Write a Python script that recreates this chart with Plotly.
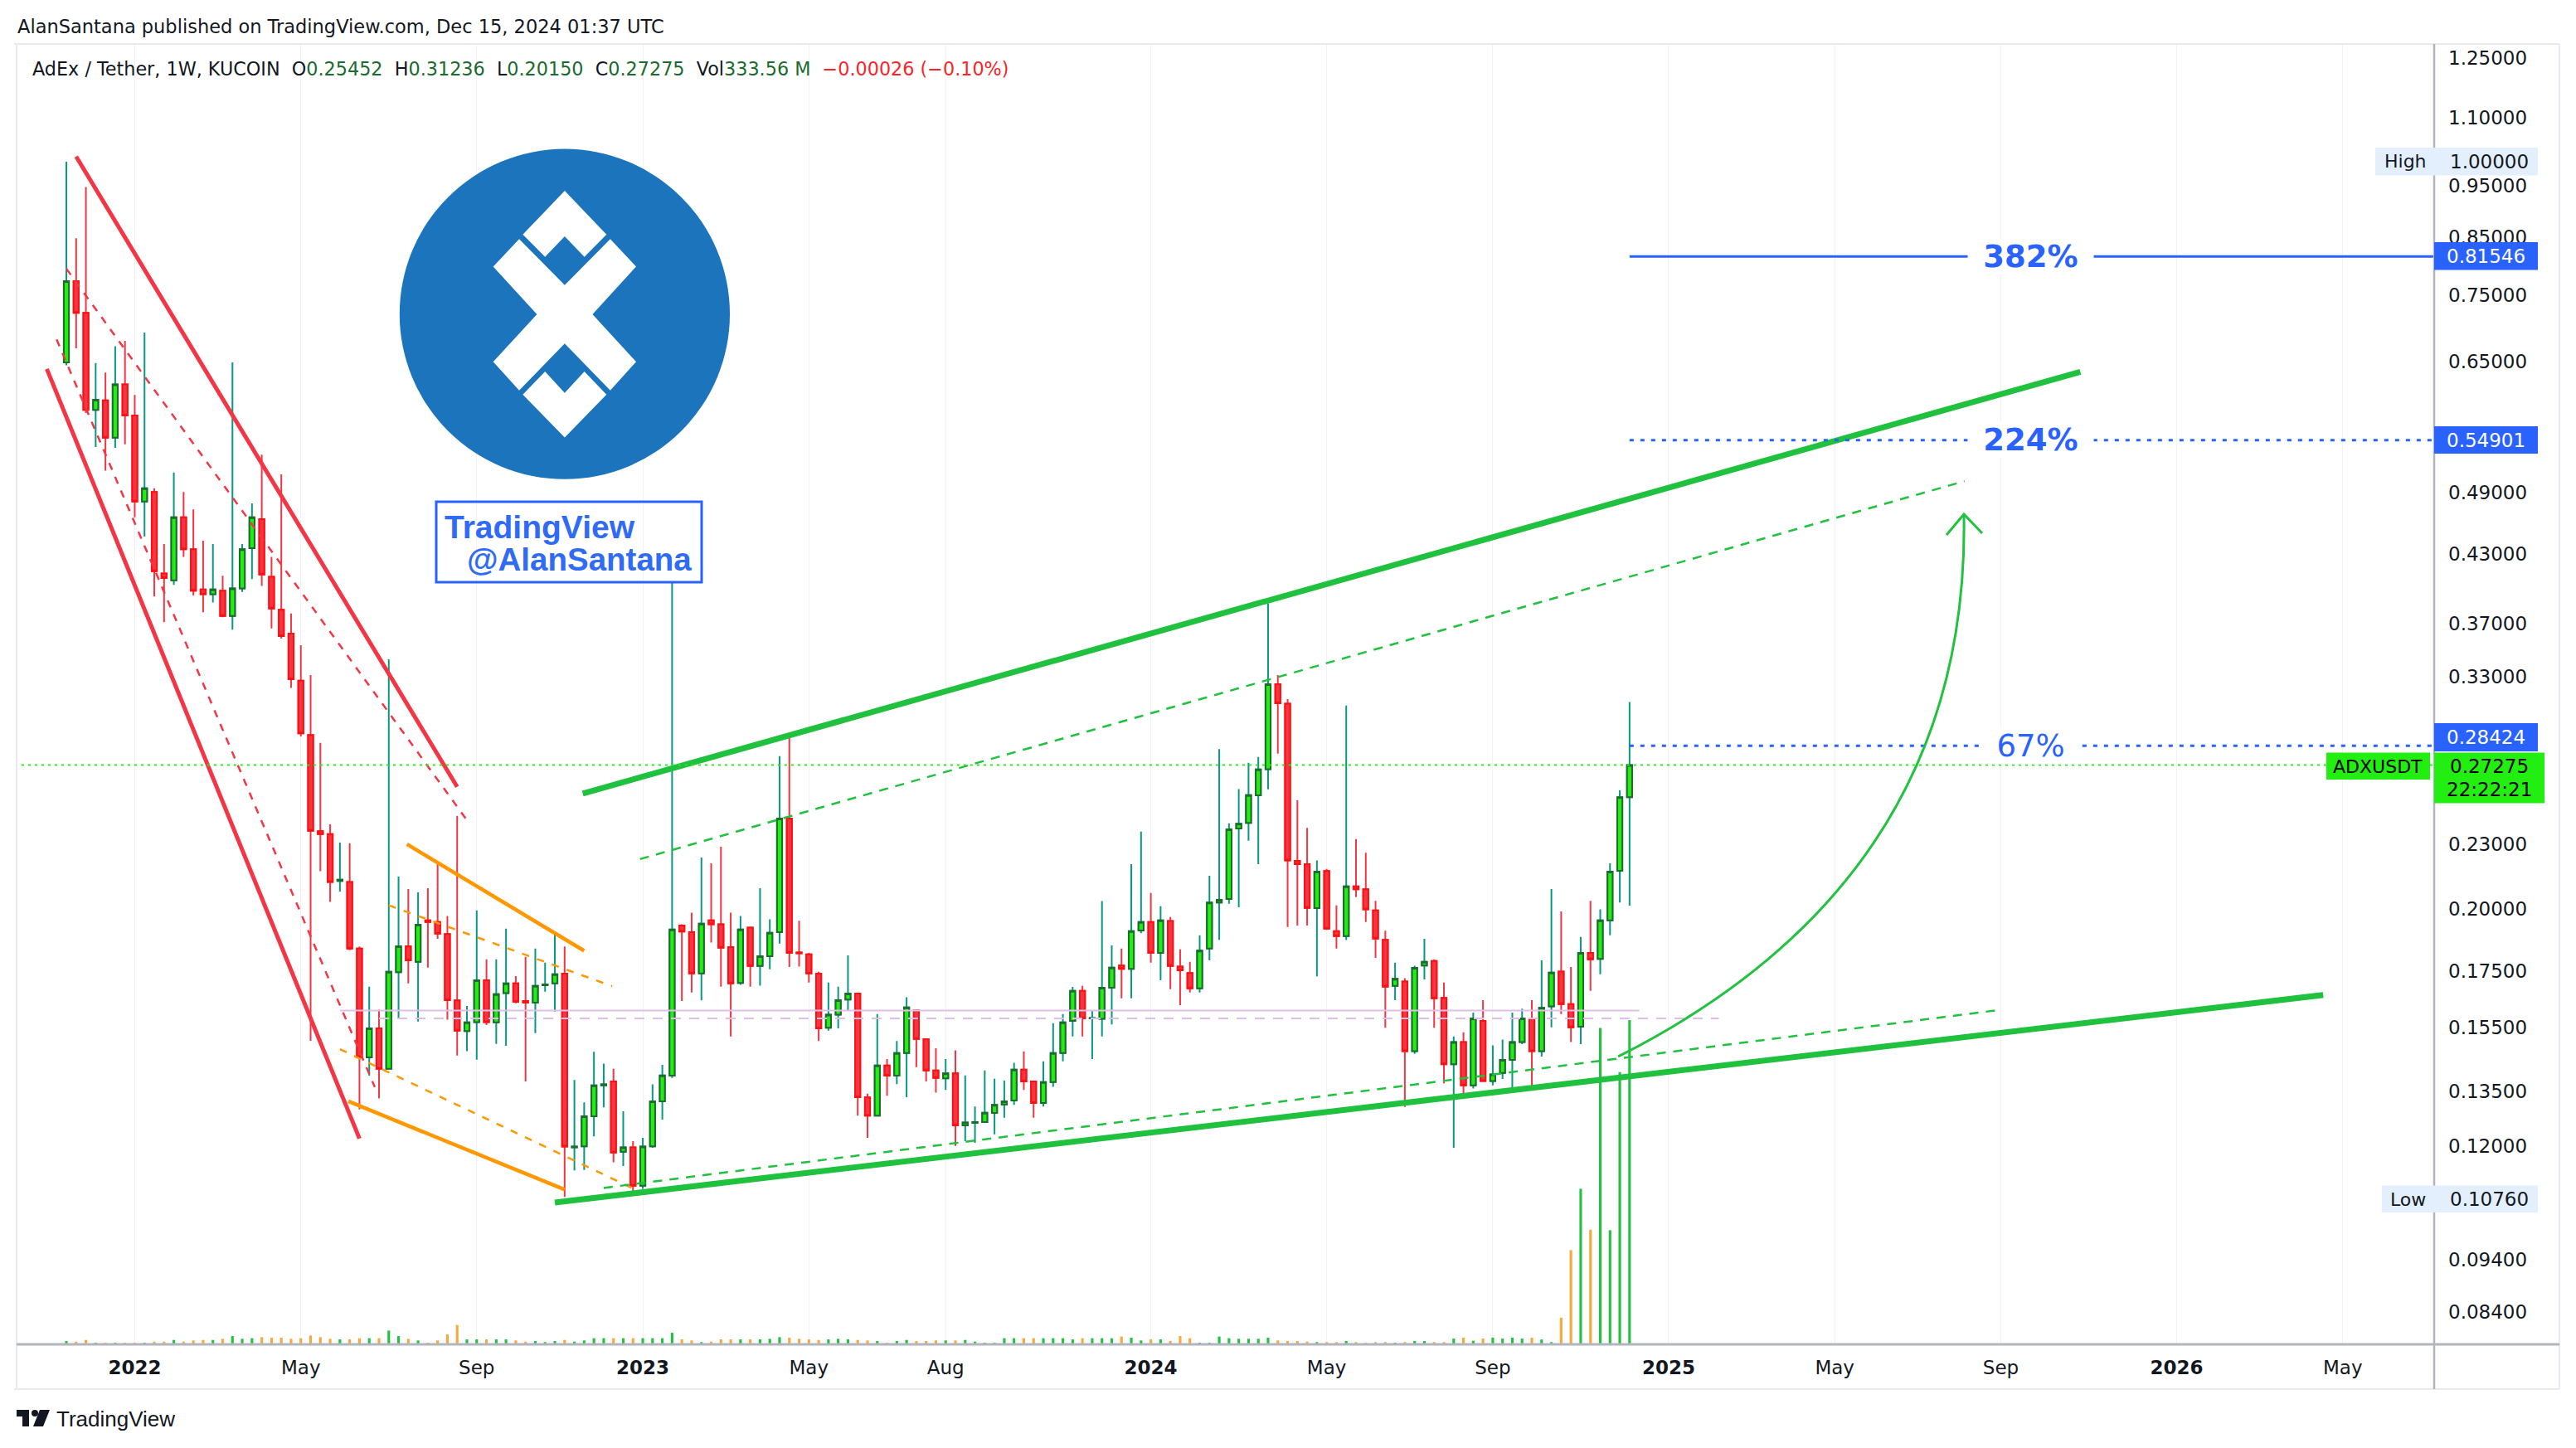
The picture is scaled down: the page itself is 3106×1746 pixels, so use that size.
import math
import pandas as pd
import plotly.graph_objects as go

# ---------------- data (weekly ADX/USDT, KuCoin) ----------------
first_week = '2021-11-15'
opens = [0.649, 0.773, 0.722, 0.586, 0.598, 0.552, 0.619, 0.579, 0.481, 0.491,
         0.412, 0.406, 0.465, 0.434, 0.398, 0.394, 0.397, 0.376, 0.399, 0.435,
         0.463, 0.409, 0.381, 0.362, 0.327, 0.291, 0.2365, 0.235, 0.2125, 0.212,
         0.1837, 0.1453, 0.1547, 0.1418, 0.1746, 0.1846, 0.1785, 0.1952, 0.1945, 0.1895,
         0.1643, 0.1538, 0.1568, 0.1716, 0.1567, 0.1669, 0.1704, 0.1641, 0.1635, 0.1697,
         0.1704, 0.1740, 0.1197, 0.1200, 0.1280, 0.1368, 0.1380, 0.1186, 0.1197, 0.1102,
         0.1200, 0.1322, 0.1397, 0.1930, 0.1903, 0.1741, 0.1952, 0.1935, 0.1843, 0.1706,
         0.1922, 0.1769, 0.1807, 0.1903, 0.2430, 0.1821, 0.1814, 0.1740, 0.1549, 0.1593,
         0.1646, 0.1667, 0.1333, 0.1282, 0.1428, 0.1397, 0.1467, 0.1607, 0.1511, 0.1413,
         0.1389, 0.1404, 0.1255, 0.1262, 0.1264, 0.1289, 0.1313, 0.1324, 0.1415, 0.1380,
         0.1317, 0.1378, 0.1467, 0.1572, 0.1677, 0.1580, 0.1579, 0.1688, 0.1771, 0.1758,
         0.1910, 0.1945, 0.1820, 0.1949, 0.1767, 0.1743, 0.1686, 0.1837, 0.2028, 0.2044,
         0.2379, 0.2408, 0.2555, 0.2703, 0.3246, 0.3113, 0.2219, 0.2203, 0.2004, 0.2171,
         0.1907, 0.1887, 0.2100, 0.2087, 0.1994, 0.1872, 0.1695, 0.1711, 0.1473, 0.1771,
         0.1788, 0.1652, 0.1432, 0.1502, 0.1368, 0.1572, 0.1381, 0.1405, 0.1445, 0.1502,
         0.1580, 0.1473, 0.1622, 0.1748, 0.1630, 0.1552, 0.1820, 0.1796, 0.1952, 0.2172,
         0.25452]
highs = [1.000, 0.848, 0.947, 0.648, 0.635, 0.672, 0.680, 0.605, 0.692, 0.495,
         0.439, 0.512, 0.491, 0.473, 0.442, 0.439, 0.410, 0.649, 0.439, 0.479,
         0.532, 0.427, 0.510, 0.378, 0.353, 0.331, 0.286, 0.240, 0.2308, 0.2305,
         0.1845, 0.1692, 0.1610, 0.3424, 0.2145, 0.2088, 0.2073, 0.2092, 0.2203, 0.1970,
         0.2444, 0.1623, 0.1994, 0.1795, 0.1795, 0.1917, 0.1731, 0.1804, 0.1837, 0.1782,
         0.1903, 0.1845, 0.1384, 0.1319, 0.1471, 0.1434, 0.1418, 0.1294, 0.1213, 0.1222,
         0.1371, 0.1430, 0.4050, 0.1935, 0.1984, 0.2235, 0.2207, 0.2287, 0.1984, 0.1970,
         0.1925, 0.2092, 0.1956, 0.2780, 0.2922, 0.1950, 0.1820, 0.1747, 0.1707, 0.1692,
         0.1810, 0.1670, 0.1344, 0.1595, 0.1448, 0.1505, 0.1654, 0.1610, 0.1512, 0.1482,
         0.1448, 0.1475, 0.1398, 0.1307, 0.1413, 0.1388, 0.1382, 0.1436, 0.1472, 0.1380,
         0.1441, 0.1564, 0.1595, 0.1691, 0.1695, 0.1607, 0.2035, 0.1849, 0.1837, 0.2203,
         0.2363, 0.2070, 0.2012, 0.1966, 0.1834, 0.1785, 0.1890, 0.2149, 0.2822, 0.2405,
         0.2589, 0.2740, 0.2775, 0.3862, 0.3310, 0.3143, 0.2528, 0.2382, 0.2221, 0.2180,
         0.2016, 0.3100, 0.2325, 0.2258, 0.2036, 0.1909, 0.1782, 0.1723, 0.1770, 0.1876,
         0.1795, 0.1707, 0.1520, 0.1534, 0.1600, 0.1644, 0.1491, 0.1510, 0.1600, 0.1614,
         0.1644, 0.1791, 0.2088, 0.1990, 0.1765, 0.1883, 0.2036, 0.1999, 0.2207, 0.2583,
         0.31236]
lows = [0.645, 0.669, 0.582, 0.541, 0.514, 0.540, 0.544, 0.465, 0.446, 0.392,
        0.371, 0.402, 0.427, 0.393, 0.379, 0.387, 0.375, 0.365, 0.396, 0.407,
        0.401, 0.366, 0.358, 0.322, 0.290, 0.1506, 0.217, 0.2031, 0.2077, 0.183,
        0.1299, 0.1397, 0.1330, 0.1416, 0.1580, 0.1704, 0.1570, 0.1763, 0.1876, 0.1576,
        0.1459, 0.1473, 0.1446, 0.1558, 0.1496, 0.1490, 0.1633, 0.1380, 0.1531, 0.1674,
        0.1604, 0.1076, 0.1139, 0.1140, 0.1226, 0.1305, 0.1159, 0.1150, 0.1088, 0.1095,
        0.1196, 0.1271, 0.1390, 0.1641, 0.1671, 0.1643, 0.1861, 0.1692, 0.1520, 0.1699,
        0.1692, 0.1696, 0.1757, 0.1857, 0.1765, 0.1767, 0.1707, 0.1505, 0.1539, 0.1547,
        0.1607, 0.1282, 0.1222, 0.1281, 0.1338, 0.1372, 0.1334, 0.1423, 0.1380, 0.1347,
        0.1355, 0.1201, 0.1213, 0.1209, 0.1263, 0.1231, 0.1276, 0.1312, 0.1355, 0.1276,
        0.1307, 0.1364, 0.1441, 0.1520, 0.1520, 0.1448, 0.1520, 0.1560, 0.1650, 0.1650,
        0.1899, 0.1782, 0.1716, 0.1683, 0.1626, 0.1671, 0.1671, 0.1791, 0.1872, 0.2023,
        0.2008, 0.2317, 0.2203, 0.2588, 0.2795, 0.1924, 0.1930, 0.1930, 0.1730, 0.1912,
        0.1837, 0.1871, 0.2052, 0.1945, 0.1800, 0.1549, 0.1644, 0.1306, 0.1464, 0.1719,
        0.1549, 0.1374, 0.1196, 0.1330, 0.1359, 0.1381, 0.1368, 0.1387, 0.1359, 0.1495,
        0.1368, 0.1456, 0.1550, 0.1595, 0.1502, 0.1495, 0.1677, 0.1738, 0.1890, 0.2028,
        0.20150]
closes = [0.773, 0.722, 0.586, 0.599, 0.552, 0.619, 0.579, 0.481, 0.495, 0.414,
          0.408, 0.465, 0.434, 0.397, 0.394, 0.398, 0.376, 0.399, 0.434, 0.465,
          0.411, 0.382, 0.360, 0.328, 0.292, 0.2367, 0.235, 0.212, 0.2130, 0.1837,
          0.1454, 0.1547, 0.1418, 0.1747, 0.1846, 0.1791, 0.1934, 0.1945, 0.1897, 0.1644,
          0.1539, 0.1567, 0.1716, 0.1568, 0.1665, 0.1704, 0.1638, 0.1635, 0.1695, 0.1700,
          0.1738, 0.1199, 0.1199, 0.1280, 0.1368, 0.1371, 0.1184, 0.1197, 0.1102, 0.1199,
          0.1322, 0.1398, 0.1914, 0.1905, 0.1741, 0.1938, 0.1935, 0.1840, 0.1704, 0.1914,
          0.1769, 0.1807, 0.1900, 0.2430, 0.1820, 0.1818, 0.1741, 0.1547, 0.1593, 0.1644,
          0.1667, 0.1334, 0.1282, 0.1428, 0.1397, 0.1467, 0.1618, 0.1512, 0.1413, 0.1390,
          0.1404, 0.1255, 0.1263, 0.1264, 0.1290, 0.1312, 0.1322, 0.1415, 0.1380, 0.1317,
          0.1378, 0.1467, 0.1567, 0.1677, 0.1580, 0.1582, 0.1688, 0.1763, 0.1758, 0.1907,
          0.1945, 0.1820, 0.1952, 0.1769, 0.1753, 0.1686, 0.1829, 0.2028, 0.2040, 0.2375,
          0.2403, 0.2556, 0.2701, 0.3246, 0.3115, 0.2221, 0.2203, 0.2005, 0.2168, 0.1917,
          0.1887, 0.2100, 0.2087, 0.1999, 0.1877, 0.1692, 0.1721, 0.1473, 0.1762, 0.1785,
          0.1650, 0.1432, 0.1502, 0.1368, 0.1580, 0.1381, 0.1401, 0.1445, 0.1502, 0.1580,
          0.1473, 0.1617, 0.1744, 0.1630, 0.1550, 0.1820, 0.1795, 0.1952, 0.2168, 0.2545,
          0.27275]
volumes_m = [3.4, 2.8, 4.5, 1.7, 1.4, 1.7, 1.7, 1.7, 1.7, 2.8,
             2.8, 4.5, 2.8, 4.0, 4.5, 4.5, 5.7, 8.5, 5.7, 6.3,
             7.4, 6.8, 6.8, 5.7, 6.3, 9.1, 7.4, 5.7, 5.1, 5.1,
             6.3, 6.3, 6.3, 14.2, 8.5, 5.7, 4.0, 1.7, 4.0, 10.2,
             19.9, 5.1, 5.1, 5.1, 5.1, 5.1, 4.0, 2.8, 3.4, 2.3,
             3.4, 4.5, 2.8, 4.0, 6.3, 6.3, 6.3, 6.3, 6.3, 6.3,
             6.3, 6.3, 11.9, 5.1, 4.0, 2.3, 2.8, 5.1, 5.1, 5.1,
             5.1, 5.1, 5.7, 7.4, 6.8, 5.7, 5.1, 4.5, 5.1, 5.7,
             5.1, 4.5, 4.0, 3.4, 1.7, 3.4, 4.5, 3.4, 3.4, 4.0,
             4.0, 4.0, 4.5, 2.8, 1.7, 1.7, 6.3, 6.3, 6.3, 6.3,
             6.3, 6.3, 6.3, 5.1, 6.3, 6.3, 6.3, 6.3, 8.0, 6.8,
             4.0, 5.1, 5.1, 3.4, 8.5, 6.3, 1.7, 1.7, 8.0, 6.3,
             5.7, 5.7, 5.7, 6.8, 4.0, 3.4, 3.4, 2.8, 2.3, 2.3,
             2.3, 3.4, 2.3, 1.7, 2.3, 2.3, 1.1, 2.3, 3.4, 3.4,
             2.3, 2.3, 5.9, 6.9, 3.7, 5.9, 6.9, 5.9, 6.9, 5.9,
             6.9, 5.0, 2.3, 27.4, 96.9, 160.0, 117.9, 325.4, 117.4, 280.1,
             333.56]

# price-axis ticks and time-axis ticks
price_ticks = [1.25, 1.10, 0.95, 0.85, 0.75, 0.65, 0.49, 0.43, 0.37, 0.33,
               0.23, 0.20, 0.175, 0.155, 0.135, 0.12, 0.094, 0.084]
time_tick_dates = ['2022-01-03', '2022-05-02', '2022-09-05', '2023-01-02', '2023-05-01',
                   '2023-08-07', '2024-01-01', '2024-05-06', '2024-09-02', '2025-01-06',
                   '2025-05-05', '2025-09-01', '2026-01-05', '2026-05-04']
time_tick_labels = ['<b>2022</b>', 'May', 'Sep', '<b>2023</b>', 'May', 'Aug', '<b>2024</b>',
                    'May', 'Sep', '<b>2025</b>', 'May', 'Sep', '<b>2026</b>', 'May']

# drawn trend lines (date, price) pairs
red_upper_x, red_upper_y = ['2021-11-22', '2022-08-22'], [1.011, 0.2602]
red_lower_x, red_lower_y = ['2021-11-01', '2022-06-13'], [0.640, 0.122]
red_mid1_x, red_mid1_y = ['2021-11-08', '2022-06-24'], [0.682, 0.1363]
red_mid2_x, red_mid2_y = ['2021-11-15', '2022-08-29'], [0.794, 0.2422]
org_upper_x, org_upper_y = ['2022-07-17', '2022-11-21'], [0.230, 0.1828]
org_lower_x, org_lower_y = ['2022-06-05', '2022-11-07'], [0.1322, 0.1093]
org_mid1_x, org_mid1_y = ['2022-07-04', '2022-12-11'], [0.2016, 0.1694]
org_mid2_x, org_mid2_y = ['2022-05-30', '2022-12-31'], [0.1479, 0.1088]
grn_upper_x, grn_upper_y = ['2022-11-20', '2025-10-28'], [0.2565, 0.636]
grn_lower_x, grn_lower_y = ['2022-10-31', '2026-04-20'], [0.1063, 0.1662]
grn_mid1_x, grn_mid1_y = ['2022-12-31', '2025-08-06'], [0.2227, 0.5026]
grn_mid2_x, grn_mid2_y = ['2022-12-05', '2025-09-01'], [0.1097, 0.161]
lav_solid_x, lav_solid_y = ['2022-05-30', '2024-12-16'], [0.1607, 0.1607]
lav_dash_x, lav_dash_y = ['2022-06-27', '2025-02-11'], [0.158, 0.158]
target_start, target_end = '2024-12-09', '2026-09-01'
target_prices = [0.81546, 0.54901, 0.28424]
target_labels = ['382%', '224%', '67%']
last_price = closes[-1]
all_time_high, all_time_low = 1.0, 0.1076

# ---------------- geometry helpers (page pixels -> paper) ----------------
W, H = 3106, 1746
PL, PR, PT, PB = 20, 2935, 53, 1621
def px(X):
    return (X - PL) / (PR - PL)
def py(Y):
    return (PB - Y) / (PB - PT)

dates = pd.date_range(first_week, periods=len(opens), freq='7D')

fig = go.Figure()

UP_FILL, UP_EDGE, UP_WICK = '#22ee11', '#1e6b2b', '#089981'
DN_FILL, DN_EDGE, DN_WICK = '#f23645', '#ff1010', '#f23645'

vol_colors = ['#22c140' if c >= o else '#f9a83a' for o, c in zip(opens, closes)]
fig.add_trace(go.Bar(x=dates, y=volumes_m, marker=dict(color=vol_colors, line=dict(width=0)),
                     width=1.6e8, yaxis='y', hoverinfo='skip', showlegend=False))

# wicks
fig.add_trace(go.Candlestick(x=dates, open=opens, high=highs, low=lows, close=closes, yaxis='y2',
                             increasing=dict(line=dict(color=UP_WICK, width=2), fillcolor=UP_FILL),
                             decreasing=dict(line=dict(color=DN_WICK, width=2), fillcolor=DN_FILL),
                             hoverinfo='skip', showlegend=False))
# bodies with their own border colour
body_hi = [max(o, c) for o, c in zip(opens, closes)]
body_lo = [min(o, c) for o, c in zip(opens, closes)]
fig.add_trace(go.Candlestick(x=dates, open=opens, high=body_hi, low=body_lo, close=closes, yaxis='y2',
                             increasing=dict(line=dict(color=UP_EDGE, width=2), fillcolor=UP_FILL),
                             decreasing=dict(line=dict(color=DN_EDGE, width=2), fillcolor=DN_FILL),
                             hoverinfo='skip', showlegend=False))

def seg(xs, ys, color, width, dash='solid'):
    fig.add_trace(go.Scatter(x=xs, y=ys, mode='lines', yaxis='y2',
                             line=dict(color=color, width=width, dash=dash),
                             hoverinfo='skip', showlegend=False))

RED, ORG, GRN, LAV, BLUE = '#f23645', '#ff9800', '#1fc13e', '#e1bee7', '#2962ff'
seg(lav_solid_x, lav_solid_y, LAV, 2)
seg(lav_dash_x, lav_dash_y, LAV, 2, '12px,10px')
seg(red_upper_x, red_upper_y, RED, 5)
seg(red_lower_x, red_lower_y, RED, 5)
seg(red_mid1_x, red_mid1_y, RED, 2.5, '9px,9px')
seg(red_mid2_x, red_mid2_y, RED, 2.5, '9px,9px')
seg(org_upper_x, org_upper_y, ORG, 4.5)
seg(org_lower_x, org_lower_y, ORG, 4.5)
seg(org_mid1_x, org_mid1_y, ORG, 2.5, '9px,10px')
seg(org_mid2_x, org_mid2_y, ORG, 2.5, '9px,10px')
seg(grn_upper_x, grn_upper_y, GRN, 7)
seg(grn_lower_x, grn_lower_y, GRN, 7)
seg(grn_mid1_x, grn_mid1_y, GRN, 2.5, '11px,9px')
seg(grn_mid2_x, grn_mid2_y, GRN, 2.5, '11px,9px')
seg(['2021-09-01', target_end], [last_price, last_price], '#22ee11', 2, '3px,5px')
seg([target_start, target_end], [target_prices[0], target_prices[0]], BLUE, 3)
seg([target_start, target_end], [target_prices[1], target_prices[1]], BLUE, 3, '5px,8px')
seg([target_start, target_end], [target_prices[2], target_prices[2]], BLUE, 3, '5px,8px')

shapes = []
ann = []
FONT = 'DejaVu Sans'
INK = '#131722'

def rect(x0, y0, x1, y1, fill, line=None, lw=0):
    shapes.append(dict(type='rect', xref='paper', yref='paper', x0=px(x0), x1=px(x1),
                       y0=py(y0), y1=py(y1), fillcolor=fill,
                       line=dict(color=line or fill, width=lw)))

def poly(points, fill):
    d = 'M ' + ' L '.join(f'{px(a):.5f},{py(b):.5f}' for a, b in points) + ' Z'
    shapes.append(dict(type='path', xref='paper', yref='paper', path=d,
                       fillcolor=fill, line=dict(width=0)))

def hline(x0, x1, y, color, w):
    shapes.append(dict(type='line', xref='paper', yref='paper', x0=px(x0), x1=px(x1),
                       y0=py(y), y1=py(y), line=dict(color=color, width=w)))

def vline(x, y0, y1, color, w):
    shapes.append(dict(type='line', xref='paper', yref='paper', x0=px(x), x1=px(x),
                       y0=py(y0), y1=py(y1), line=dict(color=color, width=w)))

def text(x, y, s, size=22, color=INK, anchor='center', family=FONT, **kw):
    ann.append(dict(xref='paper', yref='paper', x=px(x), y=py(y), text=s, showarrow=False,
                    xanchor=anchor, yanchor='middle', font=dict(family=family, size=size, color=color), **kw))

# frame and axis lines
hline(17, 3086, 53, '#e9e9f0', 2)
hline(17, 3086, 1675, '#e9e9f0', 2)
vline(20, 53, 1675, '#e9e9f0', 2)
vline(3086, 53, 1675, '#e9e9f0', 2)
hline(20, 3086, 1621, '#b2b5be', 3)
vline(2935, 53, 1675, '#b2b5be', 2.5)

# logo
shapes.append(dict(type='circle', xref='paper', yref='paper', x0=px(481.8), x1=px(880.0),
                   y0=py(577.8), y1=py(179.6), fillcolor='#1c75bc', line=dict(width=0)))
poly([(680.9, 230.1), (731.3, 282.8), (704.6, 309.8), (680.9, 284.9), (657.2, 309.8), (630.4, 282.8)], 'white')
poly([(626, 288.2), (680.9, 343.8), (735.8, 288.2), (767, 321.4), (714.4, 379), (767, 436.3),
      (735.8, 470.7), (680.9, 414.3), (626, 470.7), (594.7, 436.3), (647.4, 379), (594.7, 321.4)], 'white')
poly([(630.4, 475.7), (657.2, 447.9), (680.9, 473.7), (704.6, 447.9), (731.3, 475.7), (680.9, 527.6)], 'white')

# author box
shapes.append(dict(type='rect', xref='paper', yref='paper', x0=px(526), x1=px(846), y0=py(702), y1=py(605),
                   line=dict(color='#2962ff', width=3), fillcolor='rgba(0,0,0,0)'))
text(534, 636, '<b>TradingView</b>', 39, '#2f6bf5', 'left', 'Liberation Sans')
text(561, 674, '<b>@AlanSantana</b>', 38.5, '#2f6bf5', 'left', 'Liberation Sans')

# curved arrow
shapes.append(dict(type='path', xref='paper', yref='paper',
                   path=f'M {px(1951)},{py(1274)} Q {px(2375)},{py(1060)} {px(2368)},{py(622)}',
                   line=dict(color='#22c140', width=3)))
shapes.append(dict(type='path', xref='paper', yref='paper',
                   path=f'M {px(2347)},{py(645)} L {px(2368)},{py(620)} L {px(2390)},{py(643)}',
                   line=dict(color='#22c140', width=3)))

# target labels on lines
for p, lab, bold, gap in zip(target_prices, target_labels, [True, True, False], [151, 151, 121]):
    ann.append(dict(xref='paper', yref='y2', x=px(2448), y=math.log10(p),
                    text=(f'<b>{lab}</b>' if bold else lab), showarrow=False, xanchor='center', yanchor='middle',
                    font=dict(family=FONT, size=37, color=BLUE), bgcolor='white', width=gap, borderpad=0))

# price axis badges
rect(2864, 178, 3060, 211.5, '#e3effd')
text(2900, 195, 'High', 22)
text(3001, 195, f'{all_time_high:.5f}', 23)
rect(2872, 1429.5, 3060, 1462, '#e3effd')
text(2903, 1446, 'Low', 22)
text(3001, 1446, f'{all_time_low:.5f}', 23)
badge_y = [(292, 325.5), (514, 547), (872, 906)]
for p, (y0, y1) in zip(target_prices, badge_y):
    rect(2935, y0, 3060, y1, '#2962ff')
    text(2997, (y0 + y1) / 2, f'{p:.5f}', 23, 'white')
rect(2935, 907.5, 3068, 968.5, '#22ee11')
text(3001, 924, f'{last_price:.5f}', 23, '#000000')
text(3001, 952, '22:22:21', 23, '#000000')
rect(2805, 907.5, 2930, 940, '#22ee11')
text(2867, 924, 'ADXUSDT', 22, '#000000')

# header
text(19, 32, 'AlanSantana published on TradingView.com, Dec 15, 2024 01:37 UTC', 22.5, INK, 'left')
G, R = '#1b6a2f', '#f7252b'
hdr = ('AdEx / Tether, 1W, KUCOIN&nbsp;&nbsp;'
       f'O<span style="color:{G}">{opens[-1]:.5f}</span>&nbsp;&nbsp;'
       f'H<span style="color:{G}">{highs[-1]:.5f}</span>&nbsp;&nbsp;'
       f'L<span style="color:{G}">{lows[-1]:.5f}</span>&nbsp;&nbsp;'
       f'C<span style="color:{G}">{closes[-1]:.5f}</span>&nbsp;&nbsp;'
       f'Vol<span style="color:{G}">{volumes_m[-1]:.2f}&nbsp;M</span>&nbsp;&nbsp;'
       f'<span style="color:{R}">\u22120.00026 (\u22120.10%)</span>')
text(37, 83, hdr, 22.3, INK, 'left')

# footer logo
poly([(20, 1700), (35, 1700), (35, 1720), (27, 1720), (27, 1708), (20, 1708)], INK)
shapes.append(dict(type='circle', xref='paper', yref='paper', x0=px(38), x1=px(46), y0=py(1708), y1=py(1700),
                   fillcolor=INK, line=dict(width=0)))
poly([(48, 1700), (60, 1700), (52, 1720), (40, 1720)], INK)
text(66, 1711, 'TradingView', 26, INK, 'left', 'Liberation Sans')

vmax = max(volumes_m)
fig.update_layout(
    width=W, height=H,
    margin=dict(l=PL, r=W - PR, t=PT, b=H - PB, autoexpand=False),
    paper_bgcolor='white', plot_bgcolor='white',
    showlegend=False, hovermode=False, boxgap=0.25,
    xaxis=dict(type='date', range=['2021-10-10 08:00', '2026-07-08 12:00'],
               rangeslider=dict(visible=False), tickmode='array',
               tickvals=time_tick_dates, ticktext=time_tick_labels,
               showgrid=True, gridcolor='#f4f0f8', gridwidth=1, zeroline=False, showline=False,
               ticks='', ticklabelstandoff=12,
               tickfont=dict(family=FONT, size=23, color=INK)),
    yaxis=dict(range=[0, vmax * 4.01], visible=False, fixedrange=True),
    yaxis2=dict(type='log', overlaying='y', side='right',
                range=[math.log10(0.07833), math.log10(1.2885)],
                tickmode='array', tickvals=price_ticks, ticktext=[f'{v:.5f}' for v in price_ticks],
                showgrid=False, zeroline=False, showline=False, ticks='', ticklabelstandoff=16,
                tickfont=dict(family=FONT, size=23, color=INK)),
    shapes=shapes, annotations=ann,
)

fig.write_html('out.html', config={'displayModeBar': False},
               post_script="document.body.style.margin='0px';document.body.style.overflow='hidden';")
